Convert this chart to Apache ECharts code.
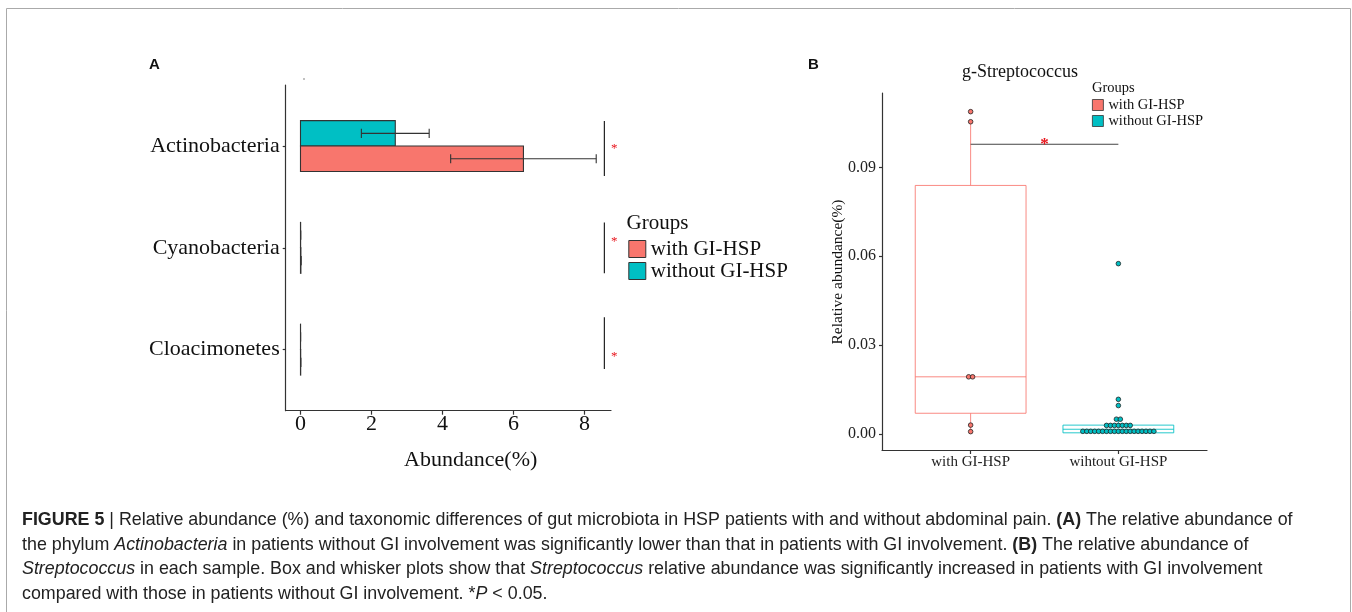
<!DOCTYPE html>
<html><head><meta charset="utf-8">
<script src="https://cdn.jsdelivr.net/npm/echarts@6/dist/echarts.min.js"></script>
<style>html,body{margin:0;padding:0;background:#fff}#c{width:1352px;height:612px}</style>
</head><body><div id="c"></div>
<script>
// ---------- Panel A data ----------
const phyla = ['Actinobacteria', 'Cyanobacteria', 'Cloacimonetes'];
const groupNames = ['with GI-HSP', 'without GI-HSP'];
const withMean = [6.28, 0.012, 0.006];
const withSE = [2.05, 0.004, 0.002];
const withoutMean = [2.67, 0.004, 0.002];
const withoutSE = [0.955, 0.002, 0.001];
const aTicks = [0, 2, 4, 6, 8];
// significance markers (x in %, spans relative to category centre)
const sigX = 8.56;
const starX = 8.84;
const sigSpans = [[-0.246, 0.295], [-0.25, 0.25], [-0.317, 0.19]];
const starOffsets = [-0.007, -0.092, 0.036];

// ---------- Panel B data ----------
const bCategories = ['with GI-HSP', 'wihtout GI-HSP'];
const withSamples = [0.0008, 0.0030, 0.0193, 0.0193, 0.1054, 0.1088];
const withoutSamples = [
  0.0009, 0.0009, 0.0009, 0.0009, 0.0009, 0.0009, 0.0009, 0.0009, 0.0009, 0.0009,
  0.0009, 0.0009, 0.0009, 0.0009, 0.0009, 0.0009, 0.0009, 0.0009, 0.0009,
  0.0029, 0.0029, 0.0029, 0.0029, 0.0029, 0.0029, 0.0029,
  0.0050, 0.0050, 0.0096, 0.0117, 0.0575
];
// box stats: [min, Q1, median, Q3, max]
const withBox = [0.0008, 0.0070, 0.0193, 0.0839, 0.1054];
const withoutBox = [0.0003, 0.0004, 0.0016, 0.0030, 0.0050];
const bTicks = [0, 0.03, 0.06, 0.09];
const bSig = [1, 2, 0.0978];

const RED = '#F8766D', CYAN = '#00BFC4';
const SERIF = 'Liberation Serif';

const chart = echarts.init(document.getElementById('c'), null, {renderer: 'canvas'});

function barSeries(name, means, ses, color, side) {
  return {
    type: 'custom', name, xAxisIndex: 0, yAxisIndex: 0,
    itemStyle: {color},
    data: means.map((m, i) => [m, i + 1, ses[i]]),
    encode: {x: 0, y: 1},
    renderItem(params, api) {
      const m = api.value(0), c = api.value(1), se = api.value(2);
      const y0 = side < 0 ? c - 0.25 : c, y1 = y0 + 0.25;
      const a = api.coord([0, y0]), b = api.coord([m, y1]);
      const yc = api.coord([0, (y0 + y1) / 2])[1];
      const e0 = api.coord([m - se, c])[0], e1 = api.coord([m + se, c])[0];
      const cap = api.size([0, 0.09])[1] / 2;
      const st = {stroke: '#333', lineWidth: 1.1};
      return {type: 'group', children: [
        {type: 'rect', shape: {x: Math.min(a[0], b[0]), y: Math.min(a[1], b[1]), width: Math.abs(b[0] - a[0]), height: Math.abs(b[1] - a[1])},
         style: {fill: color, stroke: '#333', lineWidth: 1.1}},
        {type: 'line', shape: {x1: e0, y1: yc, x2: e1, y2: yc}, style: st},
        {type: 'line', shape: {x1: e0, y1: yc - cap, x2: e0, y2: yc + cap}, style: st},
        {type: 'line', shape: {x1: e1, y1: yc - cap, x2: e1, y2: yc + cap}, style: st}
      ]};
    }
  };
}

function boxSeries(name, stats, x, color) {
  return {
    type: 'custom', name, xAxisIndex: 1, yAxisIndex: 1, z: 2,
    itemStyle: {color},
    data: [[x].concat(stats)],
    encode: {x: 0, y: [1, 2, 3, 4, 5]},
    renderItem(params, api) {
      const cx = api.value(0);
      const v = [1, 2, 3, 4, 5].map(k => api.value(k));
      const half = 0.375;
      const L = api.coord([cx - half, v[3]]), R = api.coord([cx + half, v[1]]);
      const yMin = api.coord([cx, v[0]])[1], yMed = api.coord([cx, v[2]])[1], yMax = api.coord([cx, v[4]])[1];
      const xc = api.coord([cx, 0])[0];
      const st = {stroke: color, lineWidth: 1, opacity: 0.85};
      return {type: 'group', children: [
        {type: 'line', shape: {x1: xc, y1: L[1], x2: xc, y2: yMax}, style: st},
        {type: 'line', shape: {x1: xc, y1: R[1], x2: xc, y2: yMin}, style: st},
        {type: 'rect', shape: {x: L[0], y: L[1], width: R[0] - L[0], height: R[1] - L[1]}, style: Object.assign({fill: 'rgba(255,255,255,0)'}, st)},
        {type: 'line', shape: {x1: L[0], y1: yMed, x2: R[0], y2: yMed}, style: st}
      ]};
    }
  };
}

function dotItems(samples, x) {
  const counts = {};
  samples.forEach(v => { counts[v] = (counts[v] || 0) + 1; });
  const seen = {};
  const step = 3.95;
  return samples.map(v => {
    const n = counts[v];
    const k = seen[v] = (seen[v] === undefined ? 0 : seen[v] + 1);
    return {value: [x, v], symbolOffset: [(k - (n - 1) / 2) * step, 0]};
  });
}

function dotSeries(name, samples, x, color) {
  return {
    type: 'scatter', name, xAxisIndex: 1, yAxisIndex: 1, z: 3,
    symbol: 'circle', symbolSize: 4.6,
    itemStyle: {color, borderColor: '#222', borderWidth: 0.8, opacity: 1},
    data: dotItems(samples, x),
    silent: true
  };
}

const axisLineStyle = {show: true, onZero: false, lineStyle: {color: '#333', width: 1.2}};

const caption = [
  '{b|FIGURE 5} | Relative abundance (%) and taxonomic differences of gut microbiota in HSP patients with and without abdominal pain. {b|(A)} The relative abundance of',
  'the phylum {i|Actinobacteria} in patients without GI involvement was significantly lower than that in patients with GI involvement. {b|(B)} The relative abundance of',
  '{i|Streptococcus} in each sample. Box and whisker plots show that {i|Streptococcus} relative abundance was significantly increased in patients with GI involvement',
  'compared with those in patients without GI involvement. *{i|P} < 0.05.'
].join('\n');
const CAPFONT = '"Liberation Sans", Arial, sans-serif';
const CAPSIZE = 18.5;

const option = {
  animation: false,
  backgroundColor: '#fff',
  grid: [
    {left: 285.7, top: 85, width: 325.3, height: 325.7},
    {left: 882, top: 93, width: 325, height: 357}
  ],
  xAxis: [
    {type: 'value', gridIndex: 0, min: -0.4165, max: 8.7465,
     axisLine: axisLineStyle, splitLine: {show: false},
     axisTick: {customValues: aTicks, length: 4, lineStyle: {color: '#333', width: 1.2}},
     axisLabel: {customValues: aTicks, margin: 3, fontSize: 22, fontFamily: SERIF, color: '#111'}},
    {type: 'value', gridIndex: 1, min: 0.4, max: 2.6,
     axisLine: axisLineStyle, splitLine: {show: false},
     axisTick: {customValues: [1, 2], length: 4, lineStyle: {color: '#333', width: 1.2}},
     axisLabel: {customValues: [1, 2], formatter: v => bCategories[Math.round(v) - 1], margin: 5, fontSize: 15, fontFamily: SERIF, color: '#222'}}
  ],
  yAxis: [
    {type: 'value', gridIndex: 0, min: 0.4, max: 3.6, inverse: true,
     axisLine: axisLineStyle, splitLine: {show: false},
     axisTick: {show: true, customValues: [1, 2, 3], length: 3, lineStyle: {color: '#333', width: 1.2}},
     axisLabel: {customValues: [1, 2, 3], formatter: v => phyla[Math.round(v) - 1], margin: 6, fontSize: 22, fontFamily: SERIF, color: '#111'}},
    {type: 'value', gridIndex: 1, min: -0.0054, max: 0.1151,
     axisLine: axisLineStyle, splitLine: {show: false},
     axisTick: {show: true, customValues: bTicks, length: 3, lineStyle: {color: '#333', width: 1.2}},
     axisLabel: {customValues: bTicks, formatter: v => v.toFixed(2), margin: 6, fontSize: 16, fontFamily: SERIF, color: '#222'}}
  ],
  legend: [
    {left: 628.3, top: 238.5, orient: 'vertical', padding: 0, itemWidth: 17, itemHeight: 17, itemGap: 1,
     icon: 'rect', selectedMode: false,
     data: [{name: groupNames[0], itemStyle: {color: RED}}, {name: groupNames[1], itemStyle: {color: CYAN}}],
     itemStyle: {borderColor: '#333', borderWidth: 1},
     textStyle: {fontSize: 21, fontFamily: SERIF, color: '#111', lineHeight: 18}},
    {left: 1092, top: 97.5, orient: 'vertical', padding: 0, itemWidth: 11, itemHeight: 11, itemGap: 1,
     icon: 'rect', selectedMode: false,
     data: [{name: groupNames[0], itemStyle: {color: RED}}, {name: groupNames[1], itemStyle: {color: CYAN}}],
     itemStyle: {borderColor: '#333', borderWidth: 0.8},
     textStyle: {fontSize: 14.5, fontFamily: SERIF, color: '#111', lineHeight: 12}}
  ],
  series: [
    barSeries(groupNames[1], withoutMean, withoutSE, CYAN, -1),
    barSeries(groupNames[0], withMean, withSE, RED, 1),
    {
      type: 'custom', name: 'sigA', xAxisIndex: 0, yAxisIndex: 0, z: 4,
      data: sigSpans.map((s, i) => [sigX, i + 1, s[0], s[1], starOffsets[i]]),
      encode: {x: 0, y: 1},
      renderItem(params, api) {
        const c = api.value(1);
        const p0 = api.coord([api.value(0), c + api.value(2)]);
        const p1 = api.coord([api.value(0), c + api.value(3)]);
        const ps = api.coord([starX, c + api.value(4)]);
        return {type: 'group', children: [
          {type: 'line', shape: {x1: p0[0], y1: p0[1], x2: p1[0], y2: p1[1]}, style: {stroke: '#222', lineWidth: 1.2}},
          {type: 'text', x: ps[0], y: ps[1] + 3, style: {text: '*', fill: '#e8141c', fontSize: 13, fontFamily: SERIF, align: 'center', verticalAlign: 'middle'}}
        ]};
      }
    },
    boxSeries(groupNames[0], withBox, 1, RED),
    boxSeries(groupNames[1], withoutBox, 2, CYAN),
    dotSeries(groupNames[0], withSamples, 1, RED),
    dotSeries(groupNames[1], withoutSamples, 2, CYAN),
    {
      type: 'custom', name: 'sigB', xAxisIndex: 1, yAxisIndex: 1, z: 4,
      data: [bSig],
      encode: {x: [0, 1], y: 2},
      renderItem(params, api) {
        const a = api.coord([api.value(0), api.value(2)]);
        const b = api.coord([api.value(1), api.value(2)]);
        return {type: 'group', children: [
          {type: 'line', shape: {x1: a[0], y1: a[1], x2: b[0], y2: b[1]}, style: {stroke: '#444', lineWidth: 1}},
          {type: 'text', x: (a[0] + b[0]) / 2, y: a[1], style: {text: '*', fill: '#e8141c', fontSize: 17, fontWeight: 'bold', fontFamily: SERIF, align: 'center', verticalAlign: 'middle'}}
        ]};
      }
    }
  ],
  graphic: [
    {type: 'rect', shape: {x: 6.5, y: 8.5, width: 1344, height: 640}, style: {fill: 'none', stroke: '#aaa', lineWidth: 1}, silent: true},
    {type: 'text', x: 149, y: 65, style: {text: 'A', font: 'bold 15px "Liberation Sans", Arial', fill: '#111', verticalAlign: 'middle'}},
    {type: 'text', x: 808, y: 65, style: {text: 'B', font: 'bold 15px "Liberation Sans", Arial', fill: '#111', verticalAlign: 'middle'}},
    {type: 'circle', shape: {cx: 304, cy: 79, r: 0.7}, style: {fill: '#555'}},
    {type: 'text', x: 1020, y: 72.5, style: {text: 'g-Streptococcus', fontSize: 18, fontFamily: SERIF, fill: '#111', align: 'center', verticalAlign: 'middle'}},
    {type: 'text', x: 626.5, y: 223.5, style: {text: 'Groups', fontSize: 21, fontFamily: SERIF, fill: '#111', verticalAlign: 'middle'}},
    {type: 'text', x: 1092, y: 88, style: {text: 'Groups', fontSize: 14.5, fontFamily: SERIF, fill: '#111', verticalAlign: 'middle'}},
    {type: 'text', x: 470.7, y: 460, style: {text: 'Abundance(%)', fontSize: 22, fontFamily: SERIF, fill: '#111', align: 'center', verticalAlign: 'middle'}},
    {type: 'text', x: 838, y: 272, rotation: Math.PI / 2, style: {text: 'Relative abundance(%)', fontSize: 15.5, fontFamily: SERIF, fill: '#111', align: 'center', verticalAlign: 'middle'}},
    {type: 'text', x: 22, y: 508, scaleX: 0.965, style: {
      text: caption, fontSize: CAPSIZE, fontFamily: CAPFONT, fill: '#222', lineHeight: 24.5, verticalAlign: 'top',
      rich: {
        b: {fontWeight: 'bold', fontSize: CAPSIZE, fontFamily: CAPFONT, fill: '#222', lineHeight: 24.5},
        i: {fontStyle: 'italic', fontSize: CAPSIZE, fontFamily: CAPFONT, fill: '#222', lineHeight: 24.5}
      }
    }}
  ]
};
chart.setOption(option);
</script>
</body></html>
